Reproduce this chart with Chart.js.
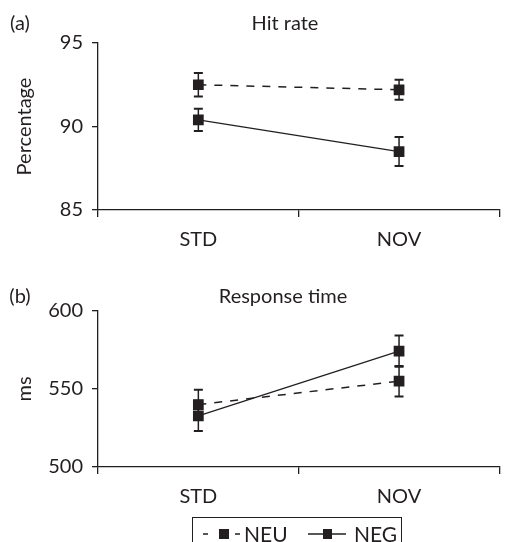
<!DOCTYPE html>
<html>
<head>
<meta charset="utf-8">
<script src="https://cdn.jsdelivr.net/npm/chart.js@4"></script>
<style>
  body { margin: 0; background: #fff; }
  #wrap { position: relative; width: 507px; height: 542px; overflow: hidden; font-family: Lato, sans-serif; color: #231f20; }
  .panel { position: absolute; left: 0; width: 507px; }
  .lbl { position: absolute; font-size: 20px; line-height: 20px; white-space: nowrap; transform: translate(-50%, -50%); }
  #legend { position: absolute; left: 192px; top: 517px; width: 210px; height: 40px; border: 1.5px solid #231f20; box-sizing: border-box; }
  #legend canvas, #legend span { position: absolute; }
  #legend span { font-size: 21px; line-height: 21px; top: 5px; }
</style>
</head>
<body>
<div id="wrap">
  <div class="panel" style="top:0;height:270px"><canvas id="hitChart"></canvas></div>
  <div class="panel" style="top:270px;height:257px"><canvas id="rtChart"></canvas></div>
  <div class="lbl" style="left:20px;top:22px">(a)</div>
  <div class="lbl" style="left:285px;top:22px">Hit rate</div>
  <div class="lbl" style="left:20px;top:295px">(b)</div>
  <div class="lbl" style="left:283px;top:295px">Response time</div>
  <div id="legend">
    <canvas id="iconNeu" width="40" height="20" style="left:9px;top:6px"></canvas>
    <span style="left:51px">NEU</span>
    <canvas id="iconNeg" width="40" height="20" style="left:115px;top:6px"></canvas>
    <span style="left:161px">NEG</span>
  </div>
</div>
<script>
// Data
const categories = ['STD', 'NOV'];

// Hit rate (%)
const hitNeu = [92.5, 92.2];
const hitNeuErr = [0.7, 0.6];
const hitNeg = [90.4, 88.5];
const hitNegErr = [0.67, 0.87];

// Response time (ms)
const rtNeu = [540, 555];
const rtNeuErr = [9.5, 9.8];
const rtNeg = [532.8, 574.3];
const rtNegErr = [9.7, 10];

const ink = '#231f20';
const font = { family: 'Lato, sans-serif', size: 20 };

// Draw vertical error bars with caps from dataset.errors
const errorBars = {
    id: 'errorBars',
    beforeDatasetsDraw(chart) {
        const ctx = chart.ctx;
        const y = chart.scales.y;
        chart.data.datasets.forEach((ds, i) => {
            const meta = chart.getDatasetMeta(i);
            meta.data.forEach((pt, j) => {
                const v = ds.data[j], e = ds.errors[j];
                const top = y.getPixelForValue(v + e);
                const bot = y.getPixelForValue(v - e);
                ctx.save();
                ctx.strokeStyle = ink;
                ctx.lineWidth = 1.5;
                ctx.beginPath();
                ctx.moveTo(pt.x, top);
                ctx.lineTo(pt.x, bot);
                ctx.stroke();
                ctx.lineWidth = 2;
                ctx.beginPath();
                ctx.moveTo(pt.x - 4.5, top);
                ctx.lineTo(pt.x + 4.5, top);
                ctx.moveTo(pt.x - 4.5, bot);
                ctx.lineTo(pt.x + 4.5, bot);
                ctx.stroke();
                ctx.restore();
            });
        });
    }
};

function makeDataset(label, data, errors, dashed) {
    return {
        label: label,
        data: data,
        errors: errors,
        borderColor: ink,
        backgroundColor: ink,
        borderWidth: dashed ? 1.5 : 1.3,
        borderDash: dashed ? [8, 8] : [],
        pointStyle: 'rect',
        pointRadius: 7.6,
        pointBorderWidth: 0,
        pointBackgroundColor: ink,
        tension: 0
    };
}

function makeChart(id, datasets, yMin, yMax, step, yTitle, padding) {
    return new Chart(document.getElementById(id), {
        type: 'line',
        data: { labels: categories, datasets: datasets },
        plugins: [errorBars],
        options: {
            responsive: true,
            maintainAspectRatio: false,
            animation: false,
            layout: { padding: padding },
            plugins: { legend: { display: false }, tooltip: { enabled: false } },
            scales: {
                x: {
                    offset: true,
                    grid: { offset: true, drawOnChartArea: false, tickLength: 7, color: ink, lineWidth: 1.3 },
                    border: { color: ink, width: 1.3 },
                    ticks: { color: ink, font: font, padding: 11 },
                    afterFit: scale => { scale.height = 60; }
                },
                y: {
                    min: yMin,
                    max: yMax,
                    grid: { drawOnChartArea: false, tickLength: 6, color: ink, lineWidth: 1.3 },
                    border: { color: ink, width: 1.3 },
                    ticks: { stepSize: step, color: ink, font: font, padding: 9 },
                    title: { display: true, text: yTitle, color: ink, font: font, padding: { top: 13, bottom: 0 } },
                    afterFit: scale => { scale.width = 98; }
                }
            }
        }
    });
}

makeChart('hitChart', [
    makeDataset('NEU', hitNeu, hitNeuErr, true),
    makeDataset('NEG', hitNeg, hitNegErr, false)
], 85, 95, 5, 'Percentage', { top: 43, right: 0, left: 0, bottom: 0 });

makeChart('rtChart', [
    makeDataset('NEU', rtNeu, rtNeuErr, true),
    makeDataset('NEG', rtNeg, rtNegErr, false)
], 500, 600, 50, 'ms', { top: 41, right: 6, left: 0, bottom: 0 });

// Legend icons
function drawIcon(id, dashed) {
    const c = document.getElementById(id).getContext('2d');
    c.fillStyle = ink;
    c.strokeStyle = ink;
    c.lineWidth = 1.5;
    if (dashed) {
        c.beginPath();
        c.moveTo(1, 10); c.lineTo(6, 10);
        c.moveTo(33, 10); c.lineTo(38, 10);
        c.stroke();
        c.fillRect(17, 5, 10, 10);
    } else {
        c.beginPath();
        c.moveTo(0, 10); c.lineTo(38, 10);
        c.stroke();
        c.fillRect(15, 5, 9, 10);
    }
}
drawIcon('iconNeu', true);
drawIcon('iconNeg', false);
</script>
</body>
</html>
